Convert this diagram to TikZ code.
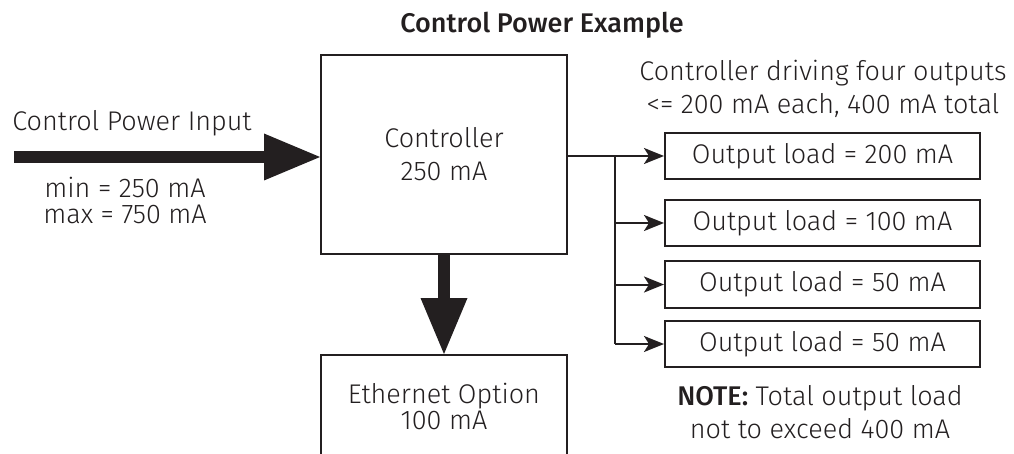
\documentclass[tikz,border=0pt]{standalone}
\usepackage{fontspec}
\setmainfont{Fira Sans}[UprightFont=* Light, BoldFont=* Medium]
\usepackage{tikz}
\usetikzlibrary{positioning, arrows.meta, calc}
\definecolor{ink}{HTML}{231F20}

\begin{document}
\begin{tikzpicture}[x=1pt, y=-1pt,
        every node/.style={text=ink, font=\fontsize{27}{33}\selectfont},
        box/.style={draw=ink, line width=2pt, align=center, inner sep=0pt},
        load/.style={box, minimum width=315pt, minimum height=46pt},
        bigarrow/.style={draw=ink, line width=12pt, -{Triangle[length=56pt, width=47pt, line width=0pt]}},
        feed/.style={draw=ink, line width=2pt, -{Stealth[length=20pt, width=16pt, inset=5pt]}}]
            \useasboundingbox (0,0) rectangle (1014,454);
            \clip (0,0) rectangle (1014,454);

            % 1. Title
            \node[font=\fontsize{27}{33}\selectfont\bfseries] (title) at (542,25) {Control Power Example};

            % 2. Blocks
            \node[box, minimum width=246pt, minimum height=199pt] (ctrl) at (444,154.5) {Controller\\250 mA};
            \node[box, minimum width=246pt, minimum height=102pt, font=\fontsize{27}{26}\selectfont] (eth) at (444,406) {Ethernet Option\\100 mA};

            % Output loads
            \node[load] (out1) at (822.5,156) {Output load = 200 mA};
            \node[load] (out2) at (822.5,223) {Output load = 100 mA};
            \node[load] (out3) at (822.5,284.5) {Output load = 50 mA};
            \node[load] (out4) at (822.5,344) {Output load = 50 mA};

            % 3. Power arrows
            \coordinate (in) at (14,157);
            \draw[bigarrow] (in) -- (in -| ctrl.west);
            \draw[bigarrow] (ctrl.south) -- (eth.north);

            % 4. Feeds to the outputs
            \coordinate (split) at (615,156);
            \draw[draw=ink, line width=2pt] (ctrl.east |- split) -- (split) -- (split |- out4);
            \foreach \o in {out1,out2,out3,out4} {
                \draw[feed] (split |- \o) -- (\o.west);
            }

            % 5. Labels
            \node (inlabel) at (132,123) {Control Power Input};
            \node[align=center, font=\fontsize{27}{26}\selectfont] (inrange) at (125,200) {min = 250 mA\\max = 750 mA};
            \node[align=center] (outlabel) at (823,89) {Controller driving four outputs\\<= 200 mA each, 400 mA total};
            \node[align=center] (note) at (820,412) {\textbf{NOTE:} Total output load\\not to exceed 400 mA};
        \end{tikzpicture}
\end{document}
